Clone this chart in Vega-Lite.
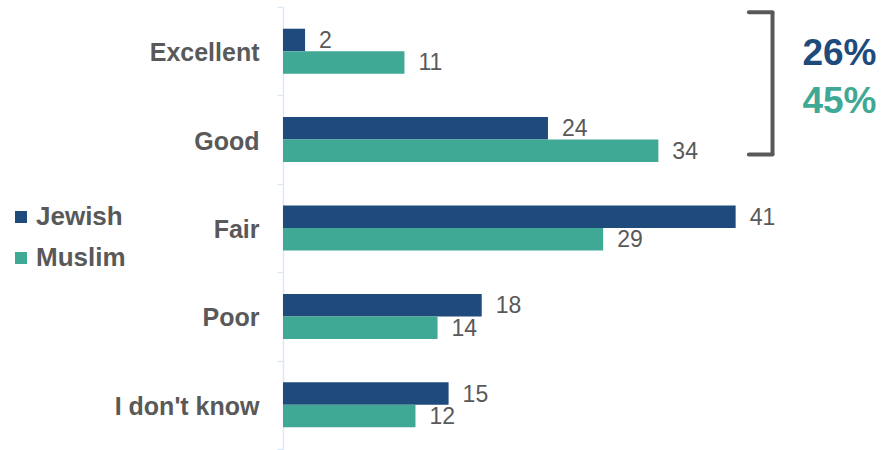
{
  "$schema": "https://vega.github.io/schema/vega-lite/v6.json",
  "width": 552,
  "height": 442,
  "autosize": {"type": "none"},
  "padding": {"left": 283, "top": 7, "right": 49, "bottom": 1},
  "background": "white",
  "config": {"font": "Liberation Sans", "view": {"stroke": null}},
  "data": {
    "values": [
      {"rating": "Excellent", "group": "Jewish", "value": 2},
      {"rating": "Excellent", "group": "Muslim", "value": 11},
      {"rating": "Good", "group": "Jewish", "value": 24},
      {"rating": "Good", "group": "Muslim", "value": 34},
      {"rating": "Fair", "group": "Jewish", "value": 41},
      {"rating": "Fair", "group": "Muslim", "value": 29},
      {"rating": "Poor", "group": "Jewish", "value": 18},
      {"rating": "Poor", "group": "Muslim", "value": 14},
      {"rating": "I don't know", "group": "Jewish", "value": 15},
      {"rating": "I don't know", "group": "Muslim", "value": 12}
    ]
  },
  "layer": [
    {
      "mark": {"type": "bar"},
      "encoding": {
        "y": {
          "field": "rating", "type": "nominal",
          "sort": ["Excellent", "Good", "Fair", "Poor", "I don't know"],
          "scale": {"domain": ["Excellent", "Good", "Fair", "Poor", "I don't know"], "paddingInner": 0, "paddingOuter": 0},
          "axis": {
            "title": null, "domainColor": "#dbe8f6", "domainWidth": 1.5,
            "tickColor": "#dbe8f6", "tickSize": 6, "tickWidth": 1.5, "tickBand": "extent",
            "labelFontSize": 25, "labelFontWeight": "bold", "labelColor": "#595959",
            "labelPadding": 18, "labelLimit": 300, "labelOffset": 1.5
          }
        },
        "yOffset": {"field": "group", "type": "nominal", "sort": ["Jewish", "Muslim"], "scale": {"domain": ["Jewish", "Muslim"], "paddingInner": 0, "paddingOuter": 0.965}},
        "x": {"field": "value", "type": "quantitative", "scale": {"domain": [0, 50]}, "axis": null},
        "color": {
          "field": "group", "type": "nominal",
          "scale": {"domain": ["Jewish", "Muslim"], "range": ["#1f4a7c", "#3fa996"]},
          "legend": {
            "orient": "none", "legendX": -275, "legendY": 197, "title": null, "padding": 0,
            "symbolType": "square", "symbolSize": 144, "symbolStrokeWidth": 0,
            "labelFontSize": 26, "labelFontWeight": "bold", "labelColor": "#595959",
            "rowPadding": 15, "labelOffset": 2
          }
        }
      }
    },
    {
      "mark": {"type": "text", "align": "left", "baseline": "middle", "dx": 14, "dy": 1, "fontSize": 23, "color": "#595959"},
      "encoding": {
        "y": {"field": "rating", "type": "nominal"},
        "yOffset": {"field": "group", "type": "nominal"},
        "x": {"field": "value", "type": "quantitative"},
        "text": {"field": "value"}
      }
    },
    {
      "data": {"values": [{"x": 44.34, "y": "Excellent", "y2": "Good"}]},
      "mark": {"type": "rule", "color": "#58595b", "strokeWidth": 4, "yOffset": -39, "y2Offset": 15},
      "encoding": {
        "x": {"field": "x", "type": "quantitative"},
        "y": {"field": "y", "type": "nominal"},
        "y2": {"field": "y2"}
      }
    },
    {
      "data": {"values": [{"x": 42.2, "x2": 44.34, "y": "Excellent"}]},
      "mark": {"type": "rule", "color": "#58595b", "strokeWidth": 4, "strokeCap": "round", "yOffset": -39},
      "encoding": {
        "x": {"field": "x", "type": "quantitative"},
        "x2": {"field": "x2"},
        "y": {"field": "y", "type": "nominal"}
      }
    },
    {
      "data": {"values": [{"x": 42.2, "x2": 44.34, "y": "Good"}]},
      "mark": {"type": "rule", "color": "#58595b", "strokeWidth": 4, "strokeCap": "round", "yOffset": 15},
      "encoding": {
        "x": {"field": "x", "type": "quantitative"},
        "x2": {"field": "x2"},
        "y": {"field": "y", "type": "nominal"}
      }
    },
    {
      "data": {"values": [{"x": 50.4, "y": "Excellent", "label": "26%"}]},
      "mark": {"type": "text", "align": "center", "baseline": "middle", "fontSize": 37, "fontWeight": "bold", "color": "#1f4a7c", "yOffset": 3},
      "encoding": {
        "x": {"field": "x", "type": "quantitative"},
        "y": {"field": "y", "type": "nominal"},
        "text": {"field": "label"}
      }
    },
    {
      "data": {"values": [{"x": 50.4, "y": "Excellent", "label": "45%"}]},
      "mark": {"type": "text", "align": "center", "baseline": "middle", "fontSize": 37, "fontWeight": "bold", "color": "#3fa996", "yOffset": 51},
      "encoding": {
        "x": {"field": "x", "type": "quantitative"},
        "y": {"field": "y", "type": "nominal"},
        "text": {"field": "label"}
      }
    }
  ]
}
